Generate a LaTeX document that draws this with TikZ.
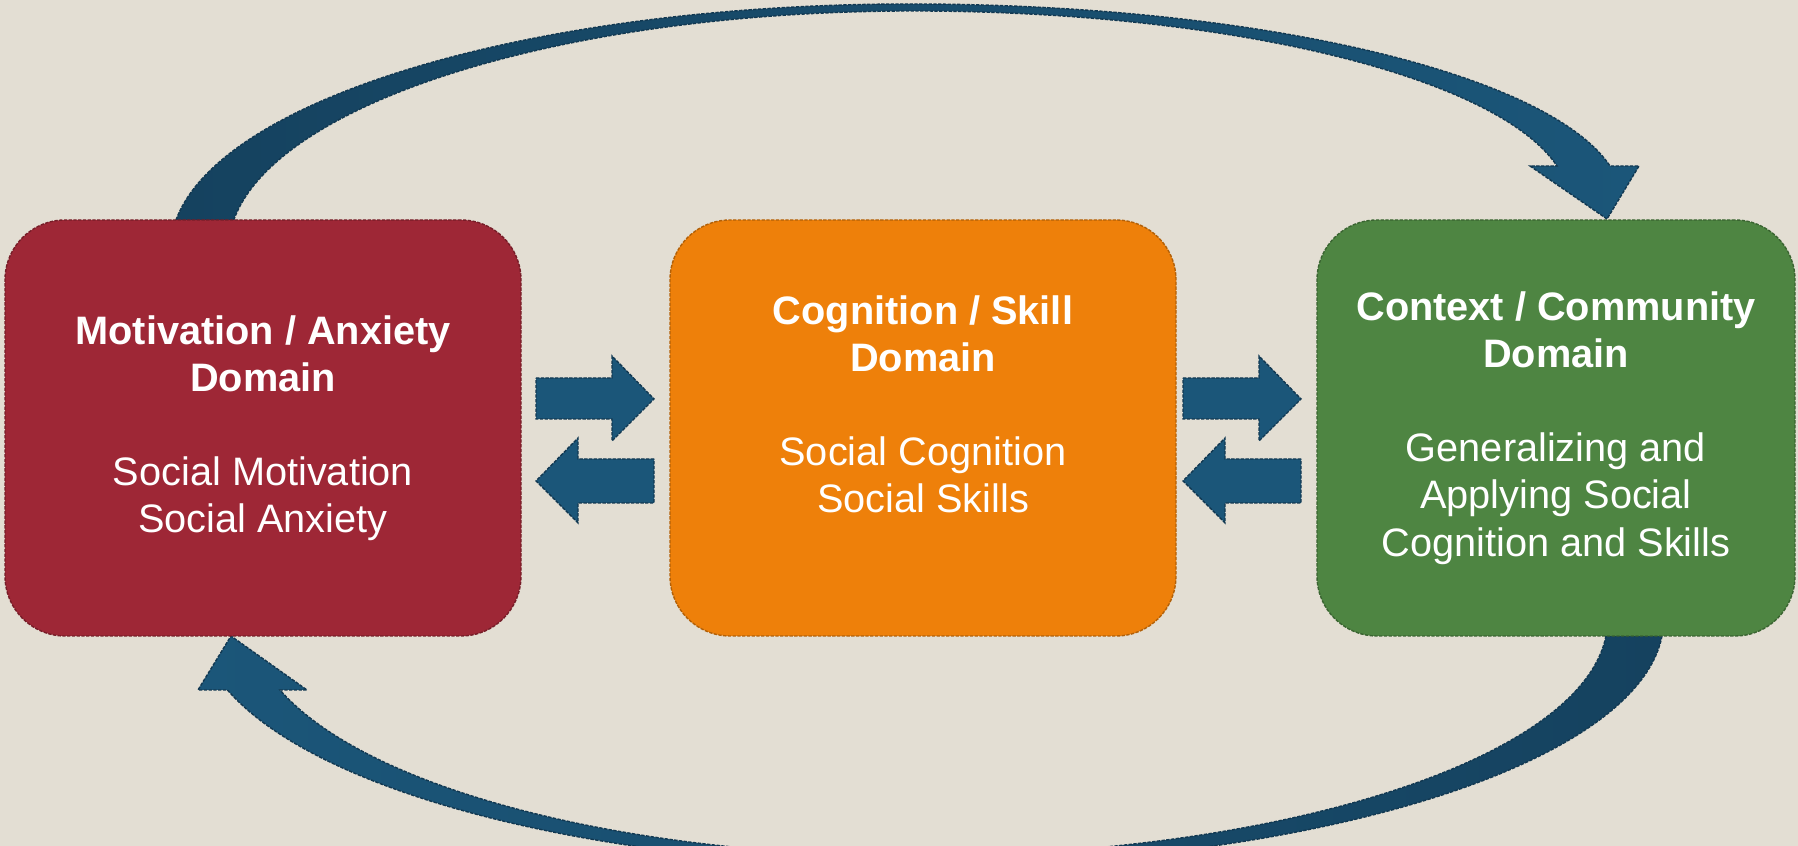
\documentclass[tikz,border=0pt]{standalone}
\usepackage{fontspec}
\setmainfont{Liberation Sans}
\definecolor{bgsand}{RGB}{227,222,211}
\definecolor{motivred}{RGB}{158,39,54}
\definecolor{cognorange}{RGB}{238,128,10}
\definecolor{contgreen}{RGB}{78,133,66}
\definecolor{arrowblue}{RGB}{27,86,121}
\definecolor{arrowdark}{RGB}{21,66,95}
\begin{document}
\begin{tikzpicture}[domainbox/.style={rounded corners=0.6cm,draw=#1!75!black,fill=#1,line width=0.4pt,
        dash pattern=on 0.95pt off 0.4pt,minimum height=4.16cm,inner sep=0pt},
    domaintext/.style={text=white,align=center,font=\fontsize{11.3}{13.4}\selectfont},
    blockarrow/.style={fill=arrowblue,draw=arrowdark!85!black,line width=0.4pt,dash pattern=on 0.95pt off 0.4pt},
    curvearrow/.style={draw=arrowdark!85!black,line width=0.4pt,dash pattern=on 0.95pt off 0.4pt}]
\clip (0,0) rectangle (17.98,8.46);
\fill[bgsand] (0,0) rectangle (17.98,8.46);

\draw[curvearrow,left color=arrowdark,right color=arrowblue]
    (1.76,6.26) arc[start angle=173,end angle=90,x radius=7.40,y radius=2.46]
    arc[start angle=90,end angle=10.72,x radius=7.12,y radius=1.99]
    -- (16.39,6.80) -- (16.07,6.27) -- (15.30,6.80) -- (15.57,6.80)
    arc[start angle=11.11,end angle=90,x radius=6.56,y radius=1.92]
    arc[start angle=90,end angle=172.79,x radius=6.85,y radius=2.39] -- cycle;
\draw[curvearrow,left color=arrowblue,right color=arrowdark]
    (16.62,2.10) arc[start angle=-3.73,end angle=-90,x radius=7.45,y radius=2.46]
    arc[start angle=270,end angle=196.53,x radius=7.21,y radius=2.46]
    -- (1.98,1.56) -- (2.31,2.10) -- (3.07,1.56) -- (2.80,1.56)
    arc[start angle=197.25,end angle=270,x radius=6.65,y radius=2.36]
    arc[start angle=-90,end angle=-3.89,x radius=6.925,y radius=2.36] -- cycle;

\node[domainbox=motivred,minimum width=5.16cm] (motiv) at (2.63,4.18) {};
\node[domainbox=cognorange,minimum width=5.06cm] (cogn) at (9.23,4.18) {};
\node[domainbox=contgreen,minimum width=4.78cm] (cont) at (15.56,4.18) {};

\node[domaintext] (motivtext) at (motiv) {\textbf{Motivation / Anxiety}\\\textbf{Domain}\\[13.4pt]Social Motivation\\Social Anxiety};
\node[domaintext] (cogntext) at ([yshift=0.235cm]cogn.center) {\textbf{Cognition / Skill}\\\textbf{Domain}\\[13.4pt]Social Cognition\\Social Skills};
\node[domaintext] (conttext) at (cont) {\textbf{Context / Community}\\\textbf{Domain}\\[13.4pt]Generalizing and\\Applying Social\\Cognition and Skills};

\foreach \gx in {0,6.47}{
    \draw[blockarrow,xshift=\gx cm] (5.36,4.68) -- (6.12,4.68) -- (6.12,4.90) -- (6.54,4.47)
        -- (6.12,4.05) -- (6.12,4.27) -- (5.36,4.27) -- cycle;
    \draw[blockarrow,xshift=\gx cm] (6.54,3.87) -- (5.78,3.87) -- (5.78,4.08) -- (5.36,3.65)
        -- (5.78,3.23) -- (5.78,3.43) -- (6.54,3.43) -- cycle;
}
\end{tikzpicture}
\end{document}
